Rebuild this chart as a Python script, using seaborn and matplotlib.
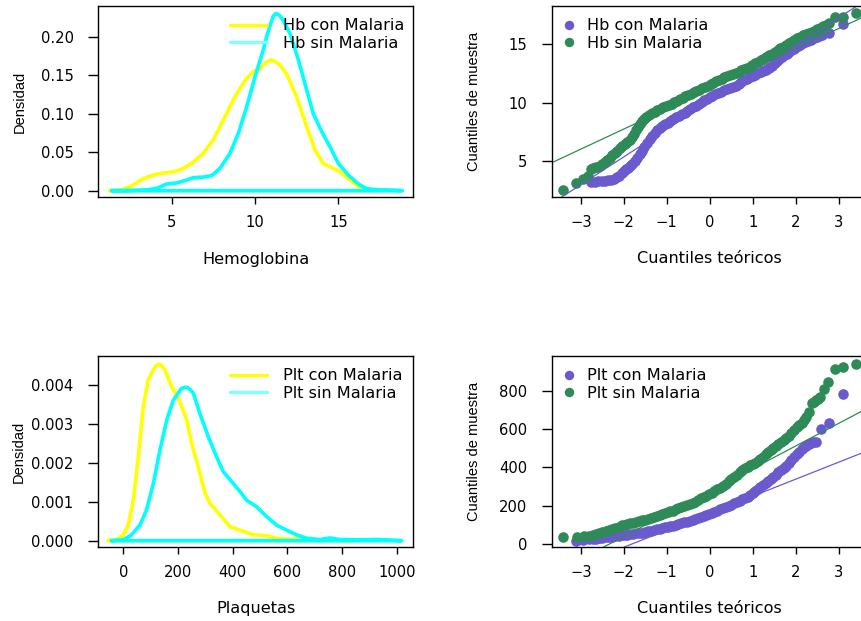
import numpy as np
import matplotlib
matplotlib.use("Agg")
import matplotlib.pyplot as plt
from matplotlib.lines import Line2D
import seaborn as sns

# ---------------- Density curves (Hemoglobina) ----------------
hb_con_x = [1.3, 2.1, 2.7, 3.3, 4.1, 5.0, 5.6, 6.2, 6.9, 7.5, 8.1, 8.7, 9.1, 9.5,
            9.9, 10.3, 10.5, 10.7, 10.94, 11.2, 11.5, 11.9, 12.5, 13.1, 13.6, 14.1, 14.7,
            15.1, 15.7, 16.2, 16.7, 17.3]
hb_con_y = [0.0, 0.0017, 0.0074, 0.016, 0.0216, 0.024, 0.0277, 0.0355, 0.0485, 0.066,
            0.092, 0.118, 0.133, 0.146, 0.1545, 0.159, 0.1635, 0.1675, 0.1697, 0.168, 0.163,
            0.1515, 0.122, 0.083, 0.053, 0.035, 0.029, 0.0247, 0.0139, 0.0052, 0.0017, 0.0]

hb_sin_x = [1.4, 2.5, 3.5, 4.1, 4.7, 5.3, 5.9, 6.3, 6.9, 7.4, 7.9, 8.5, 9.0, 9.5, 10.0,
            10.5, 10.7, 10.94, 11.1, 11.26, 11.46, 11.7, 12.1, 12.6, 13.1, 13.5, 14.0,
            14.5, 15.0, 15.6, 16.2, 16.7, 17.3, 17.9, 18.84]
hb_sin_y = [0.0, 0.0003, 0.0009, 0.003, 0.0087, 0.010, 0.0139, 0.0169, 0.0177, 0.0195,
            0.029, 0.0485, 0.0745, 0.109, 0.148, 0.183, 0.200, 0.217, 0.227, 0.2303,
            0.228, 0.221, 0.204, 0.170, 0.131, 0.100, 0.077, 0.057, 0.0355, 0.0203,
            0.0087, 0.0026, 0.0013, 0.0009, 0.0]

# ---------------- Density curves (Plaquetas) ----------------
plt_con_x = [-55, -24, 0, 18, 37, 55, 73, 91, 110, 120, 130, 140, 152, 177, 207, 232, 250,
             274, 299, 317, 354, 390, 427, 476, 524, 561, 610, 646, 707, 841]
plt_con_y = [0, 0.00003, 0.00015, 0.0004, 0.00105, 0.00216, 0.00344, 0.00413, 0.00439,
             0.00449, 0.00454, 0.0045, 0.00439, 0.00396, 0.00357, 0.0031, 0.0025, 0.0019,
             0.00122, 0.00096, 0.00066, 0.00036, 0.00027, 0.00015, 0.00013, 0.00006,
             0.00004, 0.00005, 0.00002, 0]

plt_sin_x = [-43, 0, 30, 61, 85, 110, 134, 159, 183, 213, 224, 234, 245, 256, 280, 311, 341,
             366, 402, 427, 451, 488, 524, 561, 598, 634, 671, 720, 756, 793, 866, 927, 1018]
plt_sin_y = [0, 0.00002, 0.00015, 0.0004, 0.00079, 0.00147, 0.00233, 0.0031, 0.00361,
             0.00391, 0.00394, 0.00394, 0.00388, 0.00379, 0.00327, 0.00267, 0.00216,
             0.00177, 0.00147, 0.00126, 0.00104, 0.00087, 0.00062, 0.0004, 0.00027,
             0.00015, 0.00006, 0.00003, 0.00007, 0.00003, 0.00002, 0.00003, 0]

# ---------------- Normal Q-Q (Hemoglobina) ----------------
hbq_con_t = [-2.76, -2.68, -2.60, -2.52, -2.45, -2.37, -2.30, -2.23, -2.17, -2.11, -2.05,
             -2.00, -1.95, -1.90, -1.86, -1.80, -1.75, -1.69, -1.63, -1.57, -1.52, -1.46,
             -1.40, -1.34, -1.28, -1.22, -1.17, -1.11, -1.05, -0.98, -0.92, -0.85, -0.78,
             -0.71, -0.65, -0.58, -0.52, -0.45, -0.39, -0.32, -0.26, -0.19, -0.13, -0.06,
             0.0, 0.06, 0.13, 0.19, 0.26, 0.32, 0.39, 0.46, 0.54, 0.60, 0.67, 0.73, 0.80,
             0.86, 0.93, 1.00, 1.06, 1.12, 1.19, 1.25, 1.32, 1.38, 1.45, 1.51, 1.57, 1.62,
             1.68, 1.73, 1.79, 1.84, 1.90, 1.95, 2.00, 2.05, 2.10, 2.16, 2.22, 2.28, 2.35,
             2.42, 2.49, 2.55, 2.62, 2.78, 3.10]
hbq_con_v = [3.2, 3.22, 3.25, 3.27, 3.3, 3.35, 3.4, 3.5, 3.6, 3.75, 3.95, 4.12, 4.3, 4.42,
             4.55, 4.78, 5.0, 5.3, 5.6, 5.9, 6.2, 6.55, 6.9, 7.15, 7.4, 7.65, 7.85, 8.0,
             8.15, 8.28, 8.4, 8.58, 8.75, 8.88, 9.0, 9.12, 9.25, 9.42, 9.6, 9.72, 9.85,
             10.02, 10.2, 10.32, 10.45, 10.6, 10.75, 10.85, 10.95, 11.05, 11.15, 11.22,
             11.3, 11.45, 11.6, 11.75, 11.9, 12.05, 12.2, 12.3, 12.4, 12.5, 12.6, 12.7,
             12.8, 12.97, 13.15, 13.35, 13.55, 13.72, 13.9, 14.05, 14.2, 14.35, 14.5,
             14.62, 14.75, 14.85, 14.95, 15.08, 15.2, 15.3, 15.4, 15.5, 15.6, 15.7, 15.8,
             15.95, 16.75]

hbq_sin_t = [-3.42, -3.12, -2.95, -2.84, -2.76, -2.71, -2.66, -2.61, -2.56, -2.50, -2.45,
             -2.39, -2.33, -2.27, -2.21, -2.15, -2.10, -2.04, -1.98, -1.92, -1.86, -1.81,
             -1.77, -1.72, -1.67, -1.62, -1.57, -1.52, -1.48, -1.41, -1.35, -1.28, -1.22,
             -1.15, -1.09, -1.02, -0.96, -0.89, -0.83, -0.76, -0.70, -0.63, -0.57, -0.50,
             -0.44, -0.37, -0.31, -0.24, -0.18, -0.11, -0.05, 0.02, 0.08, 0.15, 0.21, 0.28,
             0.34, 0.41, 0.47, 0.54, 0.60, 0.67, 0.73, 0.80, 0.86, 0.93, 0.99, 1.06, 1.12,
             1.19, 1.25, 1.32, 1.38, 1.45, 1.51, 1.58, 1.64, 1.71, 1.77, 1.84, 1.90, 1.97,
             2.03, 2.10, 2.16, 2.23, 2.30, 2.37, 2.43, 2.50, 2.56, 2.63, 2.70, 2.78, 2.92,
             3.10, 3.40]
hbq_sin_v = [2.55, 3.15, 3.45, 3.75, 4.3, 4.38, 4.45, 4.52, 4.6, 4.75, 4.9, 5.08, 5.25,
             5.48, 5.7, 5.9, 6.1, 6.28, 6.45, 6.62, 6.8, 7.05, 7.3, 7.62, 7.95, 8.2, 8.45,
             8.62, 8.8, 8.95, 9.1, 9.22, 9.35, 9.48, 9.6, 9.7, 9.8, 9.92, 10.05, 10.18,
             10.3, 10.42, 10.55, 10.65, 10.75, 10.88, 11.0, 11.12, 11.25, 11.35, 11.45,
             11.58, 11.7, 11.82, 11.95, 12.05, 12.15, 12.25, 12.35, 12.45, 12.55, 12.65,
             12.75, 12.85, 12.95, 13.08, 13.2, 13.35, 13.5, 13.62, 13.75, 13.9, 14.05,
             14.2, 14.35, 14.5, 14.65, 14.8, 14.95, 15.08, 15.2, 15.35, 15.5, 15.62,
             15.75, 15.85, 15.95, 16.05, 16.15, 16.28, 16.4, 16.52, 16.65, 16.8, 17.35,
             17.35, 17.65]

# ---------------- Normal Q-Q (Plaquetas) ----------------
pltq_con_t = [-3.11, -2.95, -2.80, -2.72, -2.65, -2.57, -2.50, -2.42, -2.35, -2.27, -2.20,
              -2.12, -2.05, -1.98, -1.92, -1.85, -1.78, -1.70, -1.63, -1.56, -1.50, -1.43,
              -1.37, -1.30, -1.24, -1.17, -1.11, -1.04, -0.98, -0.92, -0.86, -0.79, -0.73,
              -0.66, -0.60, -0.53, -0.47, -0.40, -0.34, -0.27, -0.21, -0.14, -0.08, -0.02,
              0.05, 0.11, 0.18, 0.24, 0.31, 0.37, 0.44, 0.50, 0.57, 0.63, 0.70, 0.76, 0.82,
              0.88, 0.94, 1.00, 1.06, 1.12, 1.18, 1.24, 1.30, 1.36, 1.42, 1.48, 1.54, 1.60,
              1.66, 1.72, 1.78, 1.84, 1.90, 1.96, 2.02, 2.08, 2.14, 2.20, 2.25, 2.30, 2.35,
              2.41, 2.47, 2.59, 2.77, 3.10]
pltq_con_v = [17, 20, 24, 26, 28, 30, 32, 34, 36, 38, 40, 42, 45, 47, 49, 51, 53, 55, 58,
              60, 63, 66, 70, 74, 78, 81, 84, 87, 90, 93, 96, 100, 104, 108, 113, 117, 122,
              126, 131, 136, 141, 146, 152, 157, 163, 169, 175, 181, 188, 194, 200, 206,
              212, 219, 226, 233, 240, 248, 257, 266, 276, 286, 296, 307, 318, 329, 340,
              351, 362, 374, 387, 398, 410, 425, 440, 455, 470, 483, 495, 506, 515, 522,
              528, 532, 535, 603, 632, 782]

pltq_sin_t = [-3.42, -3.10, -2.93, -2.80, -2.72, -2.65, -2.57, -2.50, -2.42, -2.35, -2.27,
              -2.20, -2.12, -2.05, -1.98, -1.92, -1.85, -1.78, -1.71, -1.64, -1.57, -1.50,
              -1.43, -1.37, -1.30, -1.24, -1.17, -1.11, -1.04, -0.98, -0.92, -0.86, -0.79,
              -0.73, -0.66, -0.60, -0.53, -0.47, -0.40, -0.34, -0.27, -0.21, -0.14, -0.08,
              -0.02, 0.05, 0.11, 0.18, 0.24, 0.31, 0.37, 0.44, 0.50, 0.57, 0.63, 0.70, 0.76,
              0.82, 0.88, 0.94, 1.00, 1.06, 1.12, 1.18, 1.24, 1.30, 1.36, 1.42, 1.48, 1.54,
              1.60, 1.66, 1.72, 1.78, 1.84, 1.90, 1.96, 2.02, 2.08, 2.14, 2.19, 2.24, 2.31,
              2.37, 2.42, 2.47, 2.52, 2.57, 2.66, 2.76, 2.92, 3.10, 3.40]
pltq_sin_v = [35, 38, 40, 43, 46, 50, 56, 62, 68, 73, 79, 85, 91, 97, 101, 105, 108, 112,
              116, 120, 124, 128, 132, 137, 141, 146, 150, 155, 160, 165, 170, 175, 181,
              187, 193, 199, 205, 211, 216, 222, 230, 238, 245, 252, 259, 267, 276, 285,
              295, 305, 316, 328, 340, 352, 363, 374, 385, 395, 404, 412, 418, 425, 435,
              445, 456, 468, 479, 490, 500, 510, 521, 532, 543, 555, 567, 580, 595, 610,
              622, 635, 650, 666, 690, 739, 745, 752, 760, 768, 808, 848, 915, 927, 941]

# Reference lines (intercept, slope) through the quartiles
hb_con_line = (10.12, 2.38)
hb_sin_line = (11.18, 1.72)
plt_con_line = (161.0, 88.9)
plt_sin_line = (276.0, 118.2)

# Tick marks and labels
hb_xticks = [5, 10, 15]
hb_xticklabels = ["5", "10", "15"]
hb_yticks = [0.0, 0.05, 0.10, 0.15, 0.20]
hb_yticklabels = ["0.00", "0.05", "0.10", "0.15", "0.20"]
plt_xticks = [0, 200, 400, 600, 800, 1000]
plt_xticklabels = ["0", "200", "400", "600", "800", "1000"]
plt_yticks = [0.0, 0.001, 0.002, 0.003, 0.004]
plt_yticklabels = ["0.000", "0.001", "0.002", "0.003", "0.004"]
q_xticks = [-3, -2, -1, 0, 1, 2, 3]
q_xticklabels = ["\u22123", "\u22122", "\u22121", "0", "1", "2", "3"]
hbq_yticks = [5, 10, 15]
hbq_yticklabels = ["5", "10", "15"]
pltq_yticks = [0, 200, 400, 600, 800]
pltq_yticklabels = ["0", "200", "400", "600", "800"]

YELLOW = "#ffff00"
CYAN = "#00ffff"
PURPLE = "#6a5acd"
GREEN = "#2e8b57"

sns.set_theme(style="ticks")
plt.rcParams["font.family"] = ["DejaVu Sans"]
plt.rcParams["text.color"] = "black"
plt.rcParams["axes.labelcolor"] = "black"

W, H = 861, 621
fig = plt.figure(figsize=(W / 100, H / 100), dpi=100)
fig.patch.set_facecolor("white")


def add_panel(left, top, right, bottom):
    return fig.add_axes([left / W, 1 - bottom / H, (right - left) / W, (bottom - top) / H])


ax_hb = add_panel(98, 6, 413, 197)
ax_hbq = add_panel(551.7, 6, 867.4, 197)
ax_plt = add_panel(98, 356, 413, 547.3)
ax_pltq = add_panel(551.7, 356, 867.4, 547.3)


def style(ax, xlim, ylim, xticks, xlabels, yticks, ylabels, xlabel, ylabel, xlab_y, ylab_x):
    ax.set_facecolor("white")
    ax.set_xlim(*xlim)
    ax.set_ylim(*ylim)
    ax.set_xticks(xticks, xlabels)
    ax.set_yticks(yticks, ylabels)
    for sp in ax.spines.values():
        sp.set_visible(True)
        sp.set_linewidth(1.0)
        sp.set_color("black")
    ax.tick_params(axis="x", direction="out", length=4.8, width=1.0, pad=8.0,
                   labelsize=10.6, colors="black")
    ax.tick_params(axis="y", direction="out", length=7.5, width=1.0, pad=10.0,
                   labelsize=10.6, colors="black")
    ax.set_xlabel(xlabel, fontsize=11.6, color="black")
    ax.xaxis.label.set_va("center")
    ax.xaxis.set_label_coords(0.5, xlab_y)
    ax.set_ylabel(ylabel, fontsize=10.5, color="black", family="Liberation Sans")
    ax.yaxis.label.set_va("center")
    ax.yaxis.set_label_coords(ylab_x, 0.5)
    ax.grid(False)


def closed_curve(ax, xs, ys, color):
    # density drawn as an outline polygon, closed back to its first point
    x = np.r_[xs, xs[0]]
    y = np.r_[ys, ys[0]]
    sns.lineplot(x=x, y=y, sort=False, estimator=None, ax=ax, color=color,
                 linewidth=2.6, legend=False)


def line_legend(ax, labels):
    handles = [Line2D([], [], color=YELLOW, lw=2.4), Line2D([], [], color="#7fffff", lw=2.4)]
    ax.legend(handles, labels, loc="upper left", bbox_to_anchor=(0.419, 0.936),
              frameon=False, borderpad=0, borderaxespad=0, handlelength=2.29,
              handletextpad=1.0, labelspacing=0.15, fontsize=11.6, labelcolor="black")


def point_legend(ax, labels):
    handles = [Line2D([], [], color=PURPLE, marker="o", ls="", markersize=6.8, mew=0),
               Line2D([], [], color=GREEN, marker="o", ls="", markersize=6.8, mew=0)]
    ax.legend(handles, labels, loc="upper left", bbox_to_anchor=(0.030, 0.936),
              frameon=False, borderpad=0, borderaxespad=0, handlelength=1.0,
              handletextpad=0.58, labelspacing=0.15, fontsize=11.6, numpoints=1,
              labelcolor="black")


def qq_panel(ax, t1, v1, line1, t2, v2, line2):
    sns.scatterplot(x=t1, y=v1, ax=ax, color=PURPLE, s=58, linewidth=0, legend=False)
    sns.scatterplot(x=t2, y=v2, ax=ax, color=GREEN, s=58, linewidth=0, legend=False)
    ax.axline((0, line1[0]), slope=line1[1], color=PURPLE, lw=0.9)
    ax.axline((0, line2[0]), slope=line2[1], color=GREEN, lw=0.9)


# Hemoglobina density
closed_curve(ax_hb, hb_con_x, hb_con_y, YELLOW)
closed_curve(ax_hb, hb_sin_x, hb_sin_y, CYAN)
style(ax_hb, (0.58, 19.48), (-0.0082, 0.2399), hb_xticks, hb_xticklabels,
      hb_yticks, hb_yticklabels, "Hemoglobina", "Densidad", -0.326, -0.248)
line_legend(ax_hb, ["Hb con Malaria", "Hb sin Malaria"])

# Hemoglobina Q-Q
qq_panel(ax_hbq, hbq_con_t, hbq_con_v, hb_con_line, hbq_sin_t, hbq_sin_v, hb_sin_line)
style(ax_hbq, (-3.68, 3.67), (1.92, 18.27), q_xticks, q_xticklabels,
      hbq_yticks, hbq_yticklabels, "Cuantiles teóricos", "Cuantiles de muestra", -0.321, -0.245)
point_legend(ax_hbq, ["Hb con Malaria", "Hb sin Malaria"])

# Plaquetas density
closed_curve(ax_plt, plt_con_x, plt_con_y, YELLOW)
closed_curve(ax_plt, plt_sin_x, plt_sin_y, CYAN)
style(ax_plt, (-92.5, 1059.6), (-0.00017, 0.004745), plt_xticks, plt_xticklabels,
      plt_yticks, plt_yticklabels, "Plaquetas", "Densidad", -0.319, -0.253)
line_legend(ax_plt, ["Plt con Malaria", "Plt sin Malaria"])

# Plaquetas Q-Q
qq_panel(ax_pltq, pltq_con_t, pltq_con_v, plt_con_line, pltq_sin_t, pltq_sin_v, plt_sin_line)
style(ax_pltq, (-3.68, 3.67), (-17.3, 983), q_xticks, q_xticklabels,
      pltq_yticks, pltq_yticklabels, "Cuantiles teóricos", "Cuantiles de muestra", -0.319, -0.245)
point_legend(ax_pltq, ["Plt con Malaria", "Plt sin Malaria"])

fig.savefig("out.png", dpi=100, facecolor="white")
